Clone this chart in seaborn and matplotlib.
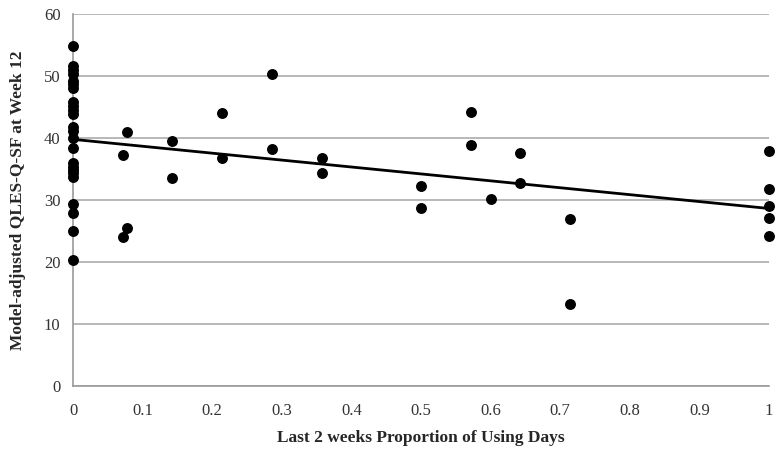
import numpy as np
import pandas as pd
import seaborn as sns
import matplotlib.pyplot as plt

# proportion of using days in last 2 weeks
prop_days = [0, 0, 0, 0, 0, 0, 0, 0, 0, 0, 0, 0, 0, 0, 0, 0, 0, 0, 0, 0, 0, 0, 0, 0,
             0.0714, 0.0769, 0.0714, 0.0769,
             0.1429, 0.1429,
             0.2143, 0.2143,
             0.2857, 0.2857,
             0.3571, 0.3571,
             0.5, 0.5,
             0.5714, 0.5714,
             0.6, 0.6429, 0.6429,
             0.7143, 0.7143,
             1, 1, 1, 1, 1]
# model-adjusted QLES-Q-SF at week 12
qles_score = [54.8, 51.6, 51.0, 50.4, 49.2, 48.7, 48.0, 45.8, 45.1, 44.5, 43.9,
              41.8, 41.2, 40.0, 38.4, 36.0, 35.4, 34.9, 34.3, 33.7,
              29.3, 27.9, 25.0, 20.4,
              37.2, 41.0, 24.0, 25.5,
              39.5, 33.6,
              44.0, 36.7,
              50.3, 38.2,
              36.7, 34.3,
              32.3, 28.7,
              44.2, 38.8,
              30.1, 37.6, 32.7,
              26.9, 13.3,
              37.9, 31.8, 29.0, 27.1, 24.2]

df = pd.DataFrame({"prop": prop_days, "qles": qles_score})

sns.set_style("white")
plt.rcParams['font.family'] = ['Liberation Serif', 'DejaVu Serif']

fig = plt.figure(figsize=(7.76, 4.59), dpi=100)
ax = fig.add_axes([73 / 776, 73 / 459, 696 / 776, 372 / 459])

sns.regplot(data=df, x="prop", y="qles", ax=ax, ci=None, truncate=True,
            scatter_kws={'s': 62, 'color': 'black', 'alpha': 1, 'linewidths': 0,
                         'zorder': 3, 'clip_on': False},
            line_kws={'color': 'black', 'lw': 2, 'zorder': 2})

ax.set_xlim(0, 1)
ax.set_ylim(0, 60)
ax.set_xticks(np.arange(0, 1.01, 0.1))
ax.set_xticklabels(["0", "0.1", "0.2", "0.3", "0.4", "0.5", "0.6", "0.7", "0.8", "0.9", "1"])
ax.set_yticks(range(0, 61, 10))
ax.yaxis.grid(True, color='#ababab', lw=1.2)
ax.set_axisbelow(True)
for side in ['top', 'right']:
    ax.spines[side].set_visible(False)
for side in ['left', 'bottom']:
    ax.spines[side].set_color('#9a9a9a')
    ax.spines[side].set_linewidth(1.2)
ax.tick_params(axis='both', which='both', direction='out', length=5, width=1.2,
               color='#9a9a9a', labelsize=12, labelcolor='#333333')
ax.tick_params(axis='x', pad=7)
ax.tick_params(axis='y', pad=4)

ax.set_xlabel("Last 2 weeks Proportion of Using Days", fontsize=12.5, fontweight='bold')
ax.set_ylabel("Model-adjusted QLES-Q-SF at Week 12", fontsize=12.5, fontweight='bold')
ax.xaxis.label.set_va('center')
ax.yaxis.label.set_va('center')
ax.xaxis.set_label_coords(0.5, (386 - 438) / 372)
ax.yaxis.set_label_coords((18 - 73) / 696, 0.5)

plt.savefig("out.png", dpi=100)
